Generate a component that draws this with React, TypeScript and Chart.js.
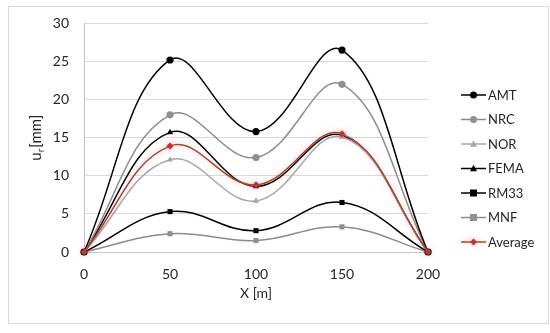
import React, { useEffect, useRef } from 'react';
import { Chart, registerables } from 'chart.js';

Chart.register(...registerables);

// ---- data ----
const xValues = [0, 50, 100, 150, 200];
const xTickValues = [0, 50, 100, 150, 200];
const yTickValues = [0, 5, 10, 15, 20, 25, 30];
const seriesNames = ['AMT', 'NRC', 'NOR', 'FEMA', 'RM33', 'MNF', 'Average'];
const amtValues = [0, 25.2, 15.8, 26.5, 0];
const nrcValues = [0, 18.0, 12.4, 22.0, 0];
const norValues = [0, 12.1, 6.7, 15.1, 0];
const femaValues = [0, 15.7, 8.6, 15.3, 0];
const rm33Values = [0, 5.3, 2.8, 6.5, 0];
const mnfValues = [0, 2.4, 1.5, 3.3, 0];
const averageValues = [0, 13.9, 8.8, 15.5, 0];
const xTitle = 'X [m]';

const FONT = 'Lato, "Open Sans", "Liberation Sans", sans-serif';

type Style = { line: string; fill: string; shape: string };
const styles: Style[] = [
  { line: '#000000', fill: '#000000', shape: 'circle' },
  { line: '#8c8c8c', fill: '#8f8f8f', shape: 'circle' },
  { line: '#a6a6a6', fill: '#a6a6a6', shape: 'triangle' },
  { line: '#000000', fill: '#000000', shape: 'triangle' },
  { line: '#000000', fill: '#000000', shape: 'rect' },
  { line: '#8c8c8c', fill: '#8f8f8f', shape: 'rect' },
  { line: '#a24a22', fill: '#b8392a', shape: 'rectRot' },
];
const allValues = [amtValues, nrcValues, norValues, femaValues, rm33Values, mnfValues, averageValues];

function drawMarker(ctx: CanvasRenderingContext2D, shape: string, x: number, y: number, r: number, color: string) {
  ctx.save();
  ctx.fillStyle = color;
  ctx.beginPath();
  if (shape === 'circle') {
    ctx.arc(x, y, r, 0, Math.PI * 2);
  } else if (shape === 'triangle') {
    ctx.moveTo(x, y - r * 1.1);
    ctx.lineTo(x + r, y + r * 0.75);
    ctx.lineTo(x - r, y + r * 0.75);
    ctx.closePath();
  } else if (shape === 'rect') {
    ctx.rect(x - r, y - r, 2 * r, 2 * r);
  } else {
    ctx.moveTo(x, y - r);
    ctx.lineTo(x + r, y);
    ctx.lineTo(x, y + r);
    ctx.lineTo(x - r, y);
    ctx.closePath();
  }
  ctx.fill();
  ctx.restore();
}

const framePlugin = {
  id: 'frame',
  beforeDraw(chart: any) {
    const ctx = chart.ctx as CanvasRenderingContext2D;
    ctx.save();
    ctx.fillStyle = '#ffffff';
    ctx.fillRect(0, 0, chart.width, chart.height);
    ctx.strokeStyle = '#d9d9d9';
    ctx.lineWidth = 1;
    ctx.strokeRect(8.5, 6.5, 540, 317);
    ctx.restore();
  },
};

const glowPlugin = {
  id: 'glow',
  beforeDatasetDraw(chart: any, args: any) {
    if (chart.data.datasets[args.index].label === 'Average') {
      const ctx = chart.ctx;
      ctx.save();
      ctx.shadowColor = 'rgba(255, 120, 190, 0.55)';
      ctx.shadowBlur = 6;
    }
  },
  afterDatasetDraw(chart: any, args: any) {
    if (chart.data.datasets[args.index].label === 'Average') {
      chart.ctx.restore();
    }
  },
};

const yTitlePlugin = {
  id: 'yTitle',
  afterDraw(chart: any) {
    const ctx = chart.ctx as CanvasRenderingContext2D;
    const area = chart.chartArea;
    const cx = 36;
    const cy = (area.top + area.bottom) / 2;
    ctx.save();
    ctx.translate(cx, cy);
    ctx.rotate(-Math.PI / 2);
    ctx.fillStyle = '#262626';
    ctx.textBaseline = 'alphabetic';
    const big = `15px ${FONT}`;
    const small = `10px ${FONT}`;
    ctx.font = big;
    const wu = ctx.measureText('u').width;
    const wmm = ctx.measureText('[mm]').width;
    ctx.font = small;
    const wr = ctx.measureText('r').width;
    const total = wu + wr + 1 + wmm;
    let x = -total / 2;
    const base = 5;
    ctx.font = big;
    ctx.fillText('u', x, base);
    x += wu;
    ctx.font = small;
    ctx.fillText('r', x, base + 3);
    x += wr + 1;
    ctx.font = big;
    ctx.fillText('[mm]', x, base);
    ctx.restore();
  },
};

const legendPlugin = {
  id: 'customLegend',
  afterDraw(chart: any) {
    const ctx = chart.ctx as CanvasRenderingContext2D;
    const top = 95;
    const step = 24.5;
    ctx.save();
    ctx.font = `13px ${FONT}`;
    ctx.textBaseline = 'middle';
    ctx.textAlign = 'left';
    chart.data.datasets.forEach((ds: any, i: number) => {
      const y = top + i * step;
      const st = styles[i];
      if (ds.label === 'Average') {
        ctx.save();
        ctx.shadowColor = 'rgba(255, 120, 190, 0.55)';
        ctx.shadowBlur = 5;
      }
      ctx.strokeStyle = st.line;
      ctx.lineWidth = 1.5;
      ctx.beginPath();
      ctx.moveTo(461, y);
      ctx.lineTo(486, y);
      ctx.stroke();
      drawMarker(ctx, st.shape, 473.5, y, 3.5, st.fill);
      if (ds.label === 'Average') ctx.restore();
      ctx.fillStyle = '#262626';
      ctx.fillText(ds.label, 488, y + 0.5);
    });
    ctx.restore();
  },
};

export default function App() {
  const ref = useRef<HTMLCanvasElement | null>(null);

  useEffect(() => {
    if (!ref.current) return;
    const datasets = seriesNames.map((name, i) => ({
      label: name,
      data: xValues.map((x, k) => ({ x, y: allValues[i][k] })),
      borderColor: styles[i].line,
      backgroundColor: styles[i].fill,
      pointBackgroundColor: styles[i].fill,
      pointBorderColor: styles[i].fill,
      pointStyle: styles[i].shape,
      pointRadius: 3.6,
      pointBorderWidth: 0,
      borderWidth: 1.5,
      tension: 0.4,
      fill: false,
      clip: false as const,
      order: name === 'Average' ? -1 : i,
    }));

    const chart = new Chart(ref.current, {
      type: 'line',
      data: { datasets },
      plugins: [framePlugin, glowPlugin, yTitlePlugin, legendPlugin],
      options: {
        animation: false,
        responsive: false,
        maintainAspectRatio: false,
        layout: { padding: { top: 22, right: 122, bottom: 0, left: 0 } },
        plugins: {
          legend: { display: false },
          tooltip: { enabled: false },
        },
        scales: {
          x: {
            type: 'linear',
            min: 0,
            max: 200,
            afterBuildTicks: (scale: any) => {
              scale.ticks = xTickValues.map((v) => ({ value: v }));
            },
            afterFit: (scale: any) => {
              scale.height = 81;
            },
            grid: { display: false, drawTicks: false },
            border: { display: true, color: '#bcc6d6', width: 1 },
            ticks: {
              padding: 14,
              color: '#262626',
              font: { family: FONT, size: 14 },
              maxRotation: 0,
            },
            title: {
              display: true,
              text: xTitle,
              color: '#262626',
              font: { family: FONT, size: 14 },
              padding: { top: 0, bottom: 31 },
            },
          },
          y: {
            type: 'linear',
            min: 0,
            max: 30,
            afterBuildTicks: (scale: any) => {
              scale.ticks = yTickValues.map((v) => ({ value: v }));
            },
            afterFit: (scale: any) => {
              scale.width = 84;
            },
            grid: { color: '#d9d9d9', lineWidth: 1, drawTicks: false },
            border: { display: true, color: '#bcc6d6', width: 1 },
            ticks: {
              padding: 15,
              color: '#262626',
              font: { family: FONT, size: 14 },
            },
          },
        },
      },
    });
    return () => chart.destroy();
  }, []);

  return (
    <div style={{ position: 'absolute', left: 0, top: 0, width: 550, height: 333, background: '#fff' }}>
      <canvas ref={ref} width={550} height={333} style={{ display: 'block', width: 550, height: 333 }} />
    </div>
  );
}
